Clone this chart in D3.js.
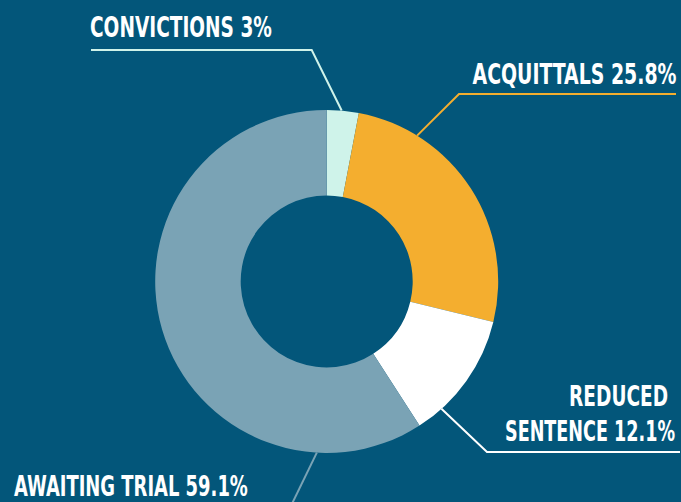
<!DOCTYPE html>
<html>
<head>
<meta charset="utf-8">
<script src="https://cdn.jsdelivr.net/npm/d3@7"></script>
<style>
  html, body { margin: 0; padding: 0; background: #03567a; }
  svg { display: block; }
</style>
</head>
<body>
<div id="chart"></div>
<script>
// Shares of cases by outcome (percent)
const categories = ["Convictions", "Acquittals", "Reduced sentence", "Awaiting trial"];
const shares = [3, 25.8, 12.1, 59.1];
const colors = ["#cff3ea", "#f4ae2f", "#ffffff", "#7aa3b5"];

// Label text lines for each slice
const labelLines = [
  ["CONVICTIONS 3%"],
  ["ACQUITTALS 25.8%"],
  ["REDUCED", "SENTENCE 12.1%"],
  ["AWAITING TRIAL 59.1%"],
];

const width = 681;
const height = 502;

const svg = d3.select("#chart")
  .append("svg")
  .attr("width", width)
  .attr("height", height);

svg.append("rect")
  .attr("width", width)
  .attr("height", height)
  .attr("fill", "#03567a");

const cx = 326.7;
const cy = 281.4;
const outerR = 171.5;
const innerR = 86;

const data = categories.map((name, i) => ({ name, value: shares[i], color: colors[i], lines: labelLines[i] }));

const pie = d3.pie().sort(null).value((d) => d.value);
const arc = d3.arc().innerRadius(innerR).outerRadius(outerR);
const arcs = pie(data);

// Label layout: where the text sits, the elbow of the leader and the angle it meets the ring
const layout = [
  { x: [90], y: 37, w: [182], anchor: "start", rule: [[91, 50], [311.7, 50]], hit: 5 },
  { x: [676.5], y: 83.5, w: [204], anchor: "end", rule: [[676, 94], [459, 94]], hit: 31.8 },
  { x: [668, 675], y: 406, w: [99, 170], anchor: "end", rule: [[680, 452], [487, 452]], hit: 138 },
  { x: [14], y: 496, w: [234], anchor: "start", rule: [[288, 512]], hit: 183.3 },
];

const g = svg.append("g").attr("transform", `translate(${cx},${cy})`);

// Leader lines (drawn under the ring)
const lines = svg.append("g");
arcs.forEach((a, i) => {
  const l = layout[i];
  const [px, py] = d3.pointRadial((l.hit * Math.PI) / 180, outerR);
  const pts = [...l.rule, [cx + px, cy + py]];
  lines.append("path")
    .attr("d", d3.line()(pts))
    .attr("fill", "none")
    .attr("stroke", a.data.color)
    .attr("stroke-width", 2);
});

g.selectAll("path")
  .data(arcs)
  .join("path")
  .attr("d", arc)
  .attr("fill", (d) => d.data.color);

// Labels: condensed look made by squeezing the text horizontally
const labels = svg.append("g")
  .attr("font-family", "'DejaVu Sans Condensed', 'Liberation Sans Narrow', Roboto, sans-serif")
  .attr("font-weight", "bold")
  .attr("font-size", 29)
  .attr("fill", "#ffffff");

arcs.forEach((a, i) => {
  const l = layout[i];
  a.data.lines.forEach((txt, j) => {
    const holder = labels.append("g");
    const t = holder.append("text")
      .attr("x", 0)
      .attr("y", 0)
      .attr("text-anchor", l.anchor)
      .text(txt);
    const natural = t.node().getComputedTextLength();
    const sx = l.w[j] / natural;
    holder.attr("transform", `translate(${l.x[j]},${l.y + j * 35}) scale(${sx},1)`);
  });
});
</script>
</body>
</html>
